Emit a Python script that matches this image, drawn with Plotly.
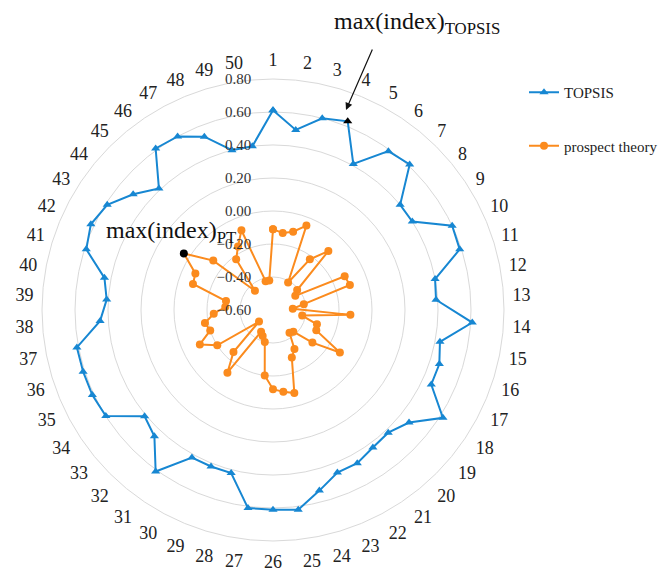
import plotly.graph_objects as go

categories = [str(i) for i in range(1, 51)]

topsis = [0.61, 0.50, 0.60, 0.63, 0.41, 0.59, 0.61, 0.40, 0.40, 0.60,
          0.59, 0.40, 0.39, 0.61, 0.43, 0.46, 0.46, 0.62, 0.47, 0.42,
          0.43, 0.46, 0.46, 0.53, 0.62, 0.61, 0.61, 0.42, 0.42, 0.42,
          0.61, 0.45, 0.41, 0.60, 0.61, 0.61, 0.61, 0.45, 0.41, 0.44,
          0.59, 0.62, 0.59, 0.50, 0.41, 0.61, 0.60, 0.53, 0.40, 0.40]

prospect = [-0.11, -0.13, -0.11, -0.05, -0.41, -0.22, -0.11, -0.41, -0.44, -0.12,
            -0.11, -0.41, -0.48, -0.13, -0.42, -0.32, -0.31, -0.12, -0.29, -0.42,
            -0.43, -0.33, -0.29, -0.08, -0.10, -0.12, -0.20, -0.40, -0.43, -0.45,
            -0.13, -0.25, -0.49, -0.20, -0.11, -0.20, -0.18, -0.24, -0.31, -0.31,
            -0.09, -0.08, 0.04, -0.13, -0.44, -0.22, -0.16, -0.08, -0.42, -0.42]

radial_ticks = [-0.6, -0.4, -0.2, 0.0, 0.2, 0.4, 0.6, 0.8]

BLUE = "#1787d2"
ORANGE = "#fb8b1e"
SERIF = "Liberation Serif, Times New Roman, serif"

top_idx = topsis.index(max(topsis))
pt_idx = prospect.index(max(prospect))

def closed(vals):
    return vals + [vals[0]]

theta_closed = categories + [categories[0]]

blue_colors = [("black" if i == top_idx else BLUE) for i in range(len(topsis))]
orange_colors = [("black" if i == pt_idx else ORANGE) for i in range(len(prospect))]

fig = go.Figure()
fig.add_trace(go.Scatterpolar(
    r=closed(topsis), theta=theta_closed, mode="lines+markers", name="TOPSIS",
    line=dict(color=BLUE, width=2),
    marker=dict(symbol="triangle-up", size=8, color=closed(blue_colors)),
    legendgroup="a",
))
fig.add_trace(go.Scatterpolar(
    r=closed(prospect), theta=theta_closed, mode="lines+markers", name="prospect theory",
    line=dict(color=ORANGE, width=2),
    marker=dict(symbol="circle", size=8, color=closed(orange_colors)),
    legendgroup="b",
))

W, H = 668, 577
OFF = 8  # page body margin
cx, cy, R = 273 - OFF, 310 - OFF, 231

fig.update_layout(
    width=W, height=H,
    margin=dict(l=0, r=0, t=0, b=0),
    paper_bgcolor="white",
    font=dict(family=SERIF, color="#222"),
    polar=dict(
        domain=dict(x=[(cx - R) / W, (cx + R) / W], y=[1 - (cy + R) / H, 1 - (cy - R) / H]),
        bgcolor="white",
        angularaxis=dict(
            direction="clockwise", rotation=90, type="category",
            categoryorder="array", categoryarray=categories,
            showgrid=False, showline=True, linecolor="#d9d9d9", linewidth=1,
            ticks="outside", ticklen=5, tickcolor="rgba(0,0,0,0)",
            tickfont=dict(family=SERIF, size=18, color="#222"),
        ),
        radialaxis=dict(
            range=[-0.6, 0.8], tickvals=radial_ticks, tickformat=".2f",
            angle=90, tickangle=90, side="counterclockwise",
            showline=False, ticks="outside", ticklen=16, tickcolor="rgba(0,0,0,0)",
            gridcolor="#d9d9d9", gridwidth=1,
            tickfont=dict(family=SERIF, size=15, color="#333"),
        ),
    ),
    legend=dict(
        x=(524 - OFF) / W, y=1 - 68 / H, xanchor="left", yanchor="top",
        font=dict(family=SERIF, size=15, color="#222"),
        tracegroupgap=31, bgcolor="rgba(0,0,0,0)",
    ),
    showlegend=True,
)

fig.add_annotation(
    xref="paper", yref="paper", x=(417 - OFF) / W, y=1 - 15 / H,
    xanchor="center", yanchor="middle",
    text="max(index)<sub>TOPSIS</sub>", showarrow=False,
    font=dict(family=SERIF, size=24, color="#111"),
)
fig.add_annotation(
    xref="paper", yref="paper", x=(346 - OFF) / W, y=1 - (110 - OFF) / H,
    ax=27, ay=-62, text="", showarrow=True,
    arrowhead=2, arrowsize=1.2, arrowwidth=1.2, arrowcolor="#111",
)
fig.add_annotation(
    xref="paper", yref="paper", x=(171 - OFF) / W, y=1 - 224 / H,
    xanchor="center", yanchor="middle",
    text="max(index)<sub>PT</sub>", showarrow=False,
    font=dict(family=SERIF, size=24, color="#111"),
)

fig.write_html("out.html")
